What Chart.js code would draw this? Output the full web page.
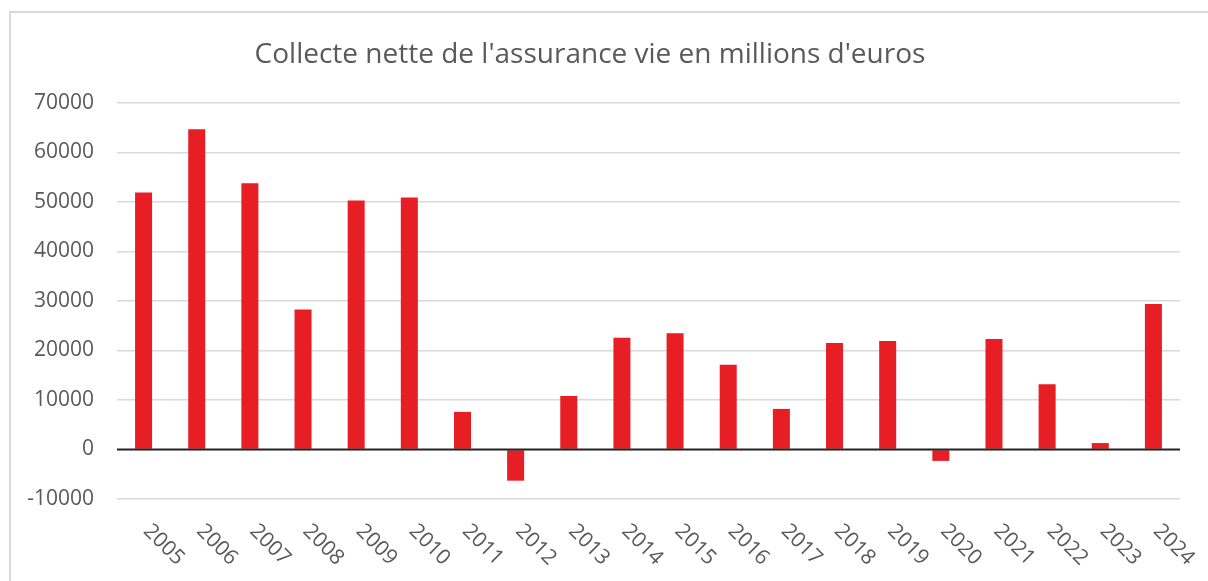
<!DOCTYPE html>
<html lang="fr">
<head>
<meta charset="utf-8">
<title>Collecte nette assurance vie</title>
<script src="https://cdn.jsdelivr.net/npm/chart.js@4.4.1/dist/chart.umd.min.js"></script>
<style>
    html, body { margin: 0; padding: 0; background: #fff; overflow: hidden; }
    #cadre {
        position: absolute;
        left: 9px;
        top: 11px;
        width: 1240px;
        height: 620px;
        border: 2px solid #d9d9d9;
    }
    #contenedor {
        position: absolute;
        left: 0;
        top: 0;
        width: 1208px;
        height: 581px;
    }
</style>
</head>
<body>
<div id="cadre"></div>
<div id="contenedor"><canvas id="graficoCollecte"></canvas></div>

<script>
// ===================================== Données ==================
var annees = ['2005', '2006', '2007', '2008', '2009', '2010', '2011', '2012', '2013', '2014',
              '2015', '2016', '2017', '2018', '2019', '2020', '2021', '2022', '2023', '2024'];

var collecte = [51900, 64700, 53800, 28300, 50300, 50900, 7600, -6300, 10800, 22600,
                23500, 17100, 8200, 21500, 21900, -2300, 22300, 13200, 1300, 29400];

var ticksY = [-10000, 0, 10000, 20000, 30000, 40000, 50000, 60000, 70000];

var titulo = "Collecte nette de l'assurance vie en millions d'euros";

var colorTexto = "#595959";
var colorBarra = "#E81E25";
var fuente = "'Open Sans', 'Noto Sans', sans-serif";


// ===================================== Etiquetas X giradas (45° hacia abajo) ==================
var pluginEtiquetasX = {
    id: 'etiquetasX',
    afterDraw(chart) {
        const ctx = chart.ctx;
        const x = chart.scales.x;
        const y = chart.scales.y;
        ctx.save();
        ctx.font = "21px " + fuente;
        ctx.fillStyle = colorTexto;
        ctx.textAlign = 'left';
        ctx.textBaseline = 'alphabetic';
        annees.forEach((a, i) => {
            const px = x.getPixelForValue(i);
            ctx.save();
            ctx.translate(px - 1, y.bottom + 33);
            ctx.rotate(Math.PI / 4);
            ctx.fillText(a, 0, 0);
            ctx.restore();
        });
        ctx.restore();
    }
};


// ===================================== Línea del cero por encima de las barras ==================
var pluginLineaCero = {
    id: 'lineaCero',
    afterDatasetsDraw(chart) {
        const ctx = chart.ctx;
        const area = chart.chartArea;
        const y0 = chart.scales.y.getPixelForValue(0);
        ctx.save();
        ctx.strokeStyle = "#262626";
        ctx.lineWidth = 2;
        ctx.beginPath();
        ctx.moveTo(area.left, y0);
        ctx.lineTo(area.right, y0);
        ctx.stroke();
        ctx.restore();
    }
};


// ===================================== Gráfico ==================
var chartCollecte = new Chart(document.getElementById("graficoCollecte"), {
    type: 'bar',
    data: {
        labels: annees,
        datasets: [{
            label: 'Collecte nette',
            data: collecte,
            backgroundColor: colorBarra,
            borderWidth: 0,
            barPercentage: 0.32,
            categoryPercentage: 1
        }]
    },
    options: {
        responsive: true,
        maintainAspectRatio: false,
        animation: false,
        layout: {
            padding: { left: 0, right: 28, top: 0, bottom: 0 }
        },
        plugins: {
            legend: { display: false },
            tooltip: { enabled: false },
            title: {
                display: true,
                text: titulo,
                color: colorTexto,
                font: { family: fuente, size: 28, weight: 'normal' },
                padding: { top: 38, bottom: 31.4 }
            }
        },
        scales: {
            x: {
                grid: { display: false },
                border: { display: false },
                ticks: { display: false },
                afterFit: s => { s.height = 82; }
            },
            y: {
                min: -10000,
                max: 70000,
                afterBuildTicks: s => { s.ticks = ticksY.map(v => ({ value: v })); },
                afterFit: s => { s.width = 117; },
                grid: {
                    color: "#d9d9d9",
                    lineWidth: 1.5,
                    drawTicks: false
                },
                border: { display: false },
                ticks: {
                    color: colorTexto,
                    padding: 23,
                    font: { family: fuente, size: 21 },
                    callback: v => String(v)
                }
            }
        }
    },
    plugins: [pluginEtiquetasX, pluginLineaCero]
});
</script>
</body>
</html>
